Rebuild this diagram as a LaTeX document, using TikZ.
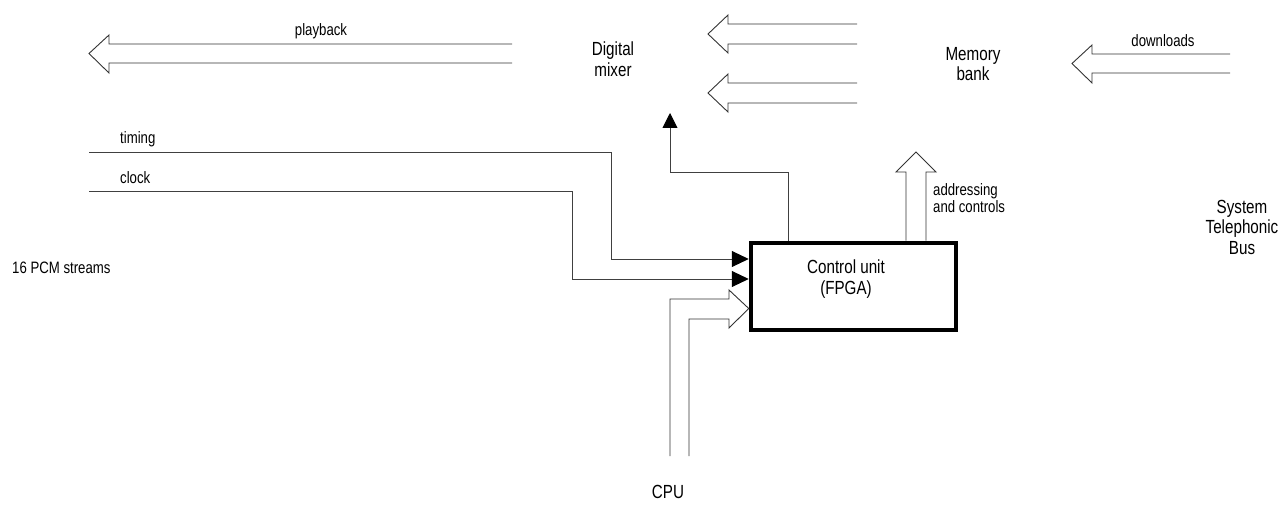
\documentclass[tikz,border=0pt]{standalone}
\usepackage{fontspec}
\setmainfont{Liberation Sans}[FakeStretch=0.8]
\usetikzlibrary{arrows.meta}
\tikzset{
  wire/.style={draw=black!75, line width=0.9pt},
  hollow/.style={draw=black!80, line width=0.9pt, line join=miter},
  solidtip/.style={-{Triangle[length=17pt,width=16pt,color=black,fill=black]}},
  biglbl/.style={font=\fontsize{19}{20.5}\selectfont, align=center, inner sep=0pt},
  smalllbl/.style={font=\fontsize{16.5}{17.5}\selectfont, align=left, inner sep=0pt},
  unitbox/.style={draw=black, line width=4.5pt, minimum width=205pt, minimum height=87pt, inner sep=0pt}
}
\begin{document}
\begin{tikzpicture}[x=1pt,y=-1pt]
\useasboundingbox (0,0) rectangle (1288,510);

% main unit
\node[unitbox] (cu) at (853.5,286.5) {};
\node[biglbl] (cutext) at (846,279) {Control unit\\(FPGA)};

% labels
\node[biglbl] (mixer) at (613,59) {Digital\\mixer};
\node[biglbl] (mem) at (973,64) {Memory\\bank};
\node[biglbl] (stb) at (1242,227) {System\\Telephonic\\Bus};
\node[biglbl] (cpu) at (668,492) {CPU};
\node[smalllbl] (pb) at (321,31) {playback};
\node[smalllbl] (dl) at (1163,41) {downloads};
\node[smalllbl, anchor=west] (tm) at (120,139) {timing};
\node[smalllbl, anchor=west] (ck) at (120,178) {clock};
\node[smalllbl, anchor=west] (pcm) at (12,268) {16 PCM streams};
\node[smalllbl, anchor=west] (adr) at (933,198) {addressing\\and controls};

% free ends
\coordinate (tmS) at (89,152);
\coordinate (ckS) at (89,191);
\coordinate (mixTip) at (670,113);

% timing and clock
\draw[wire, solidtip] (tmS) -- (611,152) -- (611,259) -- (cu.west |- 0,259);
\draw[wire, solidtip] (ckS) -- (572,191) -- (572,279) -- (cu.west |- 0,279);

% control to mixer
\draw[wire, -{Triangle[length=15pt,width=15pt,color=black,fill=black]}] (cu.north -| 788,0) -- (788,172) -- (670,172) -- (mixTip);

% playback hollow arrow
\draw[hollow] (512,44) -- (109,44) -- (109,35) -- (89,53.5) -- (109,73) -- (109,63) -- (512,63);

% mixer arrows from memory
\draw[hollow] (857,24) -- (728,24) -- (728,15) -- (708,34) -- (728,53) -- (728,44) -- (857,44);
\draw[hollow] (857,83) -- (728,83) -- (728,74) -- (708,93) -- (728,112) -- (728,103) -- (857,103);

% downloads
\draw[hollow] (1230,54) -- (1092,54) -- (1092,45) -- (1072,63.5) -- (1092,83) -- (1092,73) -- (1230,73);

% addressing
\draw[hollow] (cu.north -| 906,0) -- (906,172) -- (896,172) -- (916,152) -- (936,172) -- (926,172) -- (cu.north -| 926,0);

% CPU
\draw[hollow] (670,456) -- (670,299) -- (729,299) -- (729,290) -- (cu.west |- 0,308.5) -- (729,328) -- (729,319) -- (689,319) -- (689,456);
\end{tikzpicture}
\end{document}
